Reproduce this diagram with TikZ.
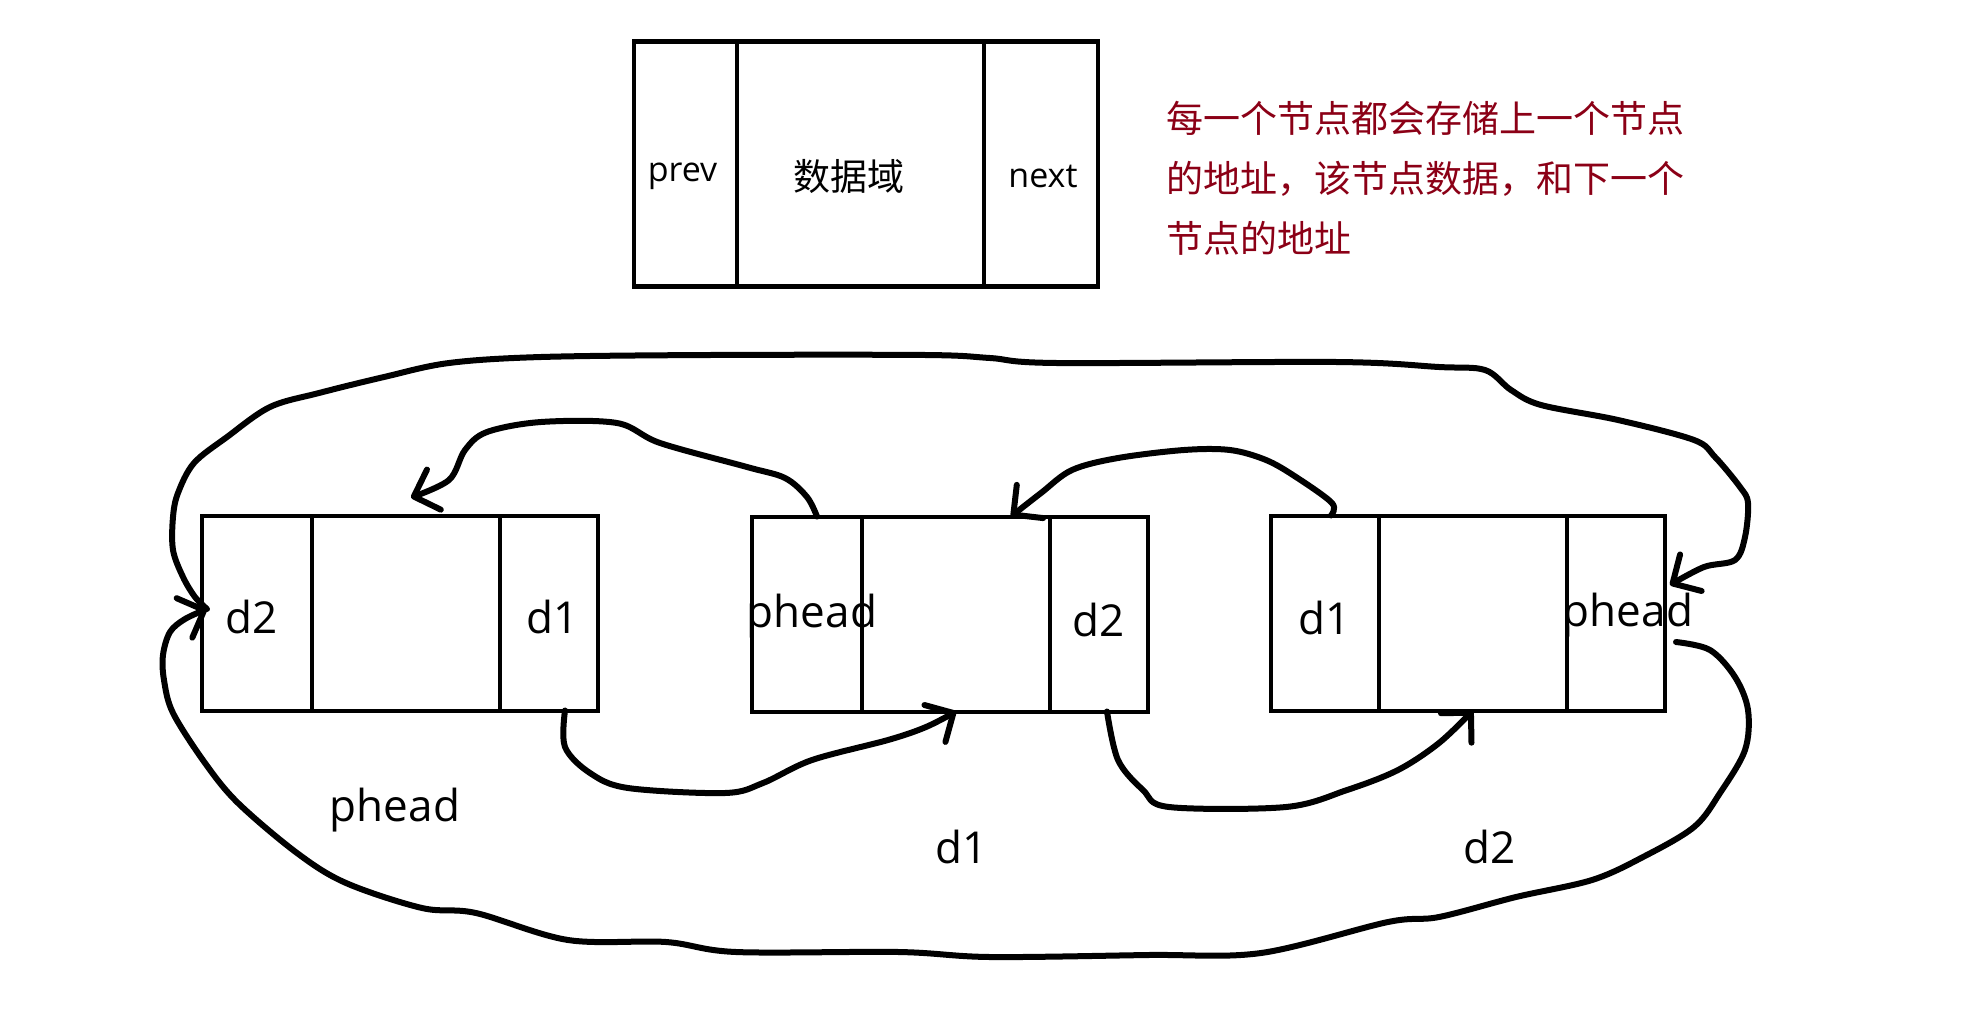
\documentclass[tikz,border=0pt]{standalone}
\usepackage{fontspec}
\setmainfont{Open Sans}
\newfontfamily\cjk{Noto Sans CJK SC}
\usetikzlibrary{positioning, arrows.meta}
\definecolor{noteRed}{RGB}{139,0,22}

\begin{document}
\begin{tikzpicture}[
    x=1pt, y=-1pt,
    layout/.style={rectangle, draw, line width=4.5pt, minimum height=245pt,
                   inner sep=0pt, outer sep=0pt},
    field/.style={rectangle, draw, line width=4pt, minimum height=195pt,
                  inner sep=0pt, outer sep=0pt},
    headtext/.style={font=\fontsize{34}{40}\selectfont, inner sep=0pt},
    celltext/.style={font=\fontsize{44}{50}\selectfont, inner sep=0pt},
    note/.style={font=\cjk\fontsize{37}{60}\selectfont, text=noteRed,
                 align=left, inner sep=0pt},
    link/.style={line width=6pt, line cap=round, line join=round,
                 -{Straight Barb[angle=90:30pt, round]}},
    freehand/.style={smooth, tension=0.55}
  ]
    \useasboundingbox (0,0) rectangle (1983,1010);

    % Top: layout of one node
    \node[layout, minimum width=103pt, anchor=west] (hprev) at (634,164) {};
    \node[layout, minimum width=247pt, right=0pt of hprev] (hdata) {};
    \node[layout, minimum width=114pt, right=0pt of hdata] (hnext) {};
    \node[headtext, yshift=-12pt, xshift=-3pt] at (hprev) {prev};
    \node[headtext, yshift=-12pt, xshift=-12pt] at (hdata) {\cjk\fontsize{37}{40}\selectfont 数据域};
    \node[headtext, yshift=-12pt, xshift=2pt] at (hnext) {next};

    \node[note, anchor=north west] (explain) at (1166,101)
      {每一个节点都会存储上一个节点\\的地址，该节点数据，和下一个\\节点的地址};

    % Bottom: three list nodes
    \node[field, minimum width=110pt, anchor=west] (n1prev) at (202,613) {};
    \node[field, minimum width=188pt, right=0pt of n1prev] (n1data) {};
    \node[field, minimum width=98pt, right=0pt of n1data] (n1next) {};

    \node[field, minimum width=110pt, anchor=west] (n2prev) at (752,614) {};
    \node[field, minimum width=188pt, right=0pt of n2prev] (n2data) {};
    \node[field, minimum width=98pt, right=0pt of n2data] (n2next) {};

    \node[field, minimum width=108pt, anchor=west] (n3prev) at (1271,613) {};
    \node[field, minimum width=188pt, right=0pt of n3prev] (n3data) {};
    \node[field, minimum width=98pt, right=0pt of n3data] (n3next) {};

    \node[celltext, yshift=-4pt, xshift=-5pt] at (n1prev) {d2};
    \node[celltext, yshift=-4pt, xshift=4pt] at (n1next) {d1};
    \node[celltext, yshift=-2pt, xshift=5pt] at (n2prev) {phead};
    \node[celltext, yshift=-6pt] at (n2next) {d2};
    \node[celltext, yshift=-5pt] at (n3prev) {d1};
    \node[celltext, yshift=-2pt, xshift=12pt] at (n3next) {phead};

    % names of the nodes
    \node[celltext] (lhead) at (395,810) {phead};
    \node[celltext] (ld1) at (962,847) {d1};
    \node[celltext] (ld2) at (1490,847) {d2};

    % next / prev links
    \coordinate (hub) at ([xshift=5pt, yshift=4pt]n1prev.west);
    \draw[link] plot[freehand] coordinates {([xshift=16pt]n1next.south)
      (565,747) (590,773) (628,788) (725,793) (763,783) (812,760) (888,740)
      (926,727) (n2data.south)};
    \draw[link] plot[freehand] coordinates {([xshift=10pt]n2prev.north)
      (807,497) (785,478) (747,467) (660,443) (617,423) (541,422) (487,432)
      (465,450) (449,480) ([xshift=5pt, yshift=18pt]n1data.north)};
    \draw[link] plot[freehand] coordinates {([xshift=8pt]n2next.south)
      (1118,760) (1143,790) (1169,807) (1286,807) (1347,790) (1398,770)
      (1439,743) (n3data.south)};
    \draw[link] plot[freehand] coordinates {([xshift=6pt]n3prev.north)
      (1332,503) (1296,477) (1266,460) (1230,450) (1184,450) (1118,458)
      (1072,470) (1041,493) ([xshift=55pt]n2data.north)};

    % round the ends
    \draw[link] plot[freehand] coordinates {([xshift=11pt, yshift=-29pt]n3next.east)
      (1710,650) (1735,677) (1748,710) (1745,750) (1720,793) (1694,827)
      (1643,857) (1592,880) (1516,897) (1439,917) (1388,922) (1261,953)
      (1148,955) (990,957) (899,952) (736,952) (666,942) (568,940) (476,913)
      (422,908) (346,883) (297,853) (238,803) (205,763) (173,713) (164,680)
      (163,655) (170,632) (185,619) (hub)};
    \draw[link] plot[freehand] coordinates {(hub)
      (195,597) (183,577) (173,550) (173,517) (178,493) (194,463) (227,437)
      (270,407) (319,393) (384,377) (449,363) (541,357) (709,355) (926,355)
      (990,358) (1057,363) (1337,362) (1439,367) (1485,370) (1511,390)
      (1541,405) (1618,420) (1694,440) (1715,457) (1740,487) (1748,503)
      (1745,537) (1735,560) (1704,567) ([xshift=5pt, yshift=28pt]n3next.east)};
\end{tikzpicture}
\end{document}
